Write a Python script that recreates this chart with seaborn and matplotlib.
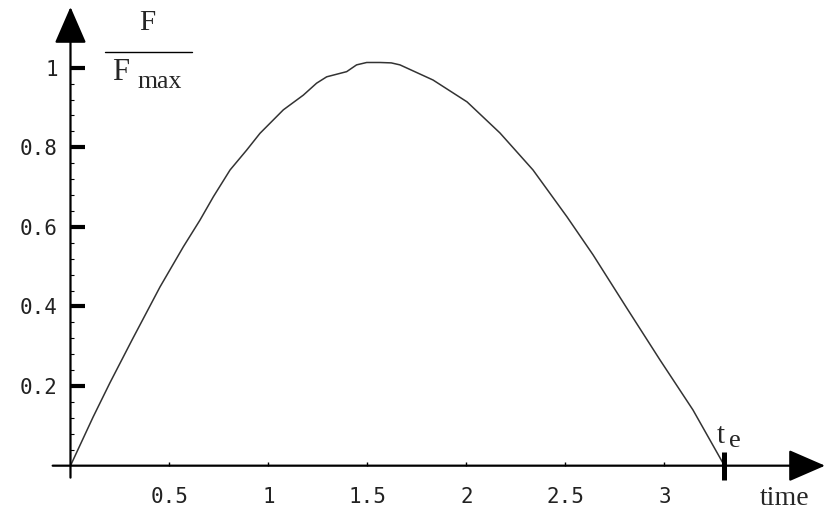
import numpy as np
import pandas as pd
import seaborn as sns
import matplotlib.pyplot as plt

# values
time = [0.0, 0.114, 0.199, 0.311, 0.452, 0.570, 0.654, 0.722, 0.806, 0.890,
        0.957, 1.075, 1.176, 1.243, 1.294, 1.395, 1.445, 1.496, 1.563, 1.62,
        1.664, 1.831, 2.003, 2.169, 2.336, 2.508, 2.639, 2.811, 2.977, 3.144,
        3.295, 3.303]
force = [0.0, 0.122, 0.208, 0.316, 0.449, 0.550, 0.617, 0.676, 0.743, 0.793,
         0.835, 0.894, 0.931, 0.961, 0.977, 0.990, 1.007, 1.013, 1.013, 1.012,
         1.007, 0.969, 0.914, 0.836, 0.743, 0.625, 0.530, 0.395, 0.266, 0.140,
         0.007, 0.0]
t_end = 3.30

x_ticks = [0.5, 1, 1.5, 2, 2.5, 3]
x_labels = ["0.5", "1", "1.5", "2", "2.5", "3"]
y_ticks = [0.2, 0.4, 0.6, 0.8, 1.0]
y_labels = ["0.2", "0.4", "0.6", "0.8", "1"]
y_minor = [round(0.04 * i, 2) for i in range(1, 26) if i % 5]

W, H = 828, 514

sns.set_style("white")
fig = plt.figure(figsize=(W / 100, H / 100), dpi=100)
ax = fig.add_axes([0, 0, 1, 1])

df = pd.DataFrame({"time": time, "force": force})
sns.lineplot(data=df, x="time", y="force", ax=ax, color="#333333", lw=1.1)

ax.set_xlim(-0.356, 3.826)
ax.set_ylim(-0.1214, 1.170)
ax.set_xlabel("")
ax.set_ylabel("")

for s in ["top", "right"]:
    ax.spines[s].set_visible(False)
for s in ["left", "bottom"]:
    ax.spines[s].set_position(("data", 0))
    ax.spines[s].set_color("none")

# axes drawn as arrows
arrow = dict(arrowstyle="-|>,head_length=2.3,head_width=1.0", mutation_scale=10,
             shrinkA=0, shrinkB=0, lw=1.6, color="black")
ax.annotate("", xy=(0, 1.1525), xytext=(0, -0.03), arrowprops=arrow)
ax.annotate("", xy=(3.811, 0), xytext=(-0.09, 0), arrowprops=arrow)

ax.set_xticks(x_ticks, x_labels)
ax.set_yticks(y_ticks, y_labels)
ax.set_yticks(y_minor, minor=True)
ax.tick_params(axis="y", which="major", direction="in", length=11, width=3,
               pad=9, labelsize=15, left=True, colors="black")
ax.tick_params(axis="y", which="minor", direction="in", length=3, width=0.8,
               left=True, colors="black")
ax.tick_params(axis="x", which="major", direction="in", length=3, width=1,
               pad=15, labelsize=15, bottom=True, colors="black")
for lab in ax.get_xticklabels() + ax.get_yticklabels():
    lab.set_fontfamily("DejaVu Sans Mono")
    lab.set_color("#222222")

# end-time marker
ax.vlines(t_end, -0.036, 0.035, color="black", lw=3.6)


def fx(px):
    return px / W


def fy(py):
    return 1 - py / H


serif = "Liberation Serif"
ax.text(fx(147), fy(23), "F", family=serif, fontsize=21, ha="center", va="center",
        transform=ax.transAxes)
ax.plot([fx(105), fx(192)], [fy(52), fy(52)], color="black", lw=1,
        transform=ax.transAxes)
ax.text(fx(112), fy(80), "F", family=serif, fontsize=22, ha="left", va="baseline",
        transform=ax.transAxes)
ax.text(fx(137), fy(88), "max", family=serif, fontsize=18.5, ha="left", va="baseline",
        transform=ax.transAxes)
ax.text(fx(785), fy(505), "time", family=serif, fontsize=20, ha="center", va="baseline",
        transform=ax.transAxes)
ax.text(fx(717), fy(443), "t", family=serif, fontsize=21, ha="left", va="baseline",
        transform=ax.transAxes)
ax.text(fx(729), fy(447), "e", family=serif, fontsize=19, ha="left", va="baseline",
        transform=ax.transAxes)

fig.savefig("out.png", dpi=100)
